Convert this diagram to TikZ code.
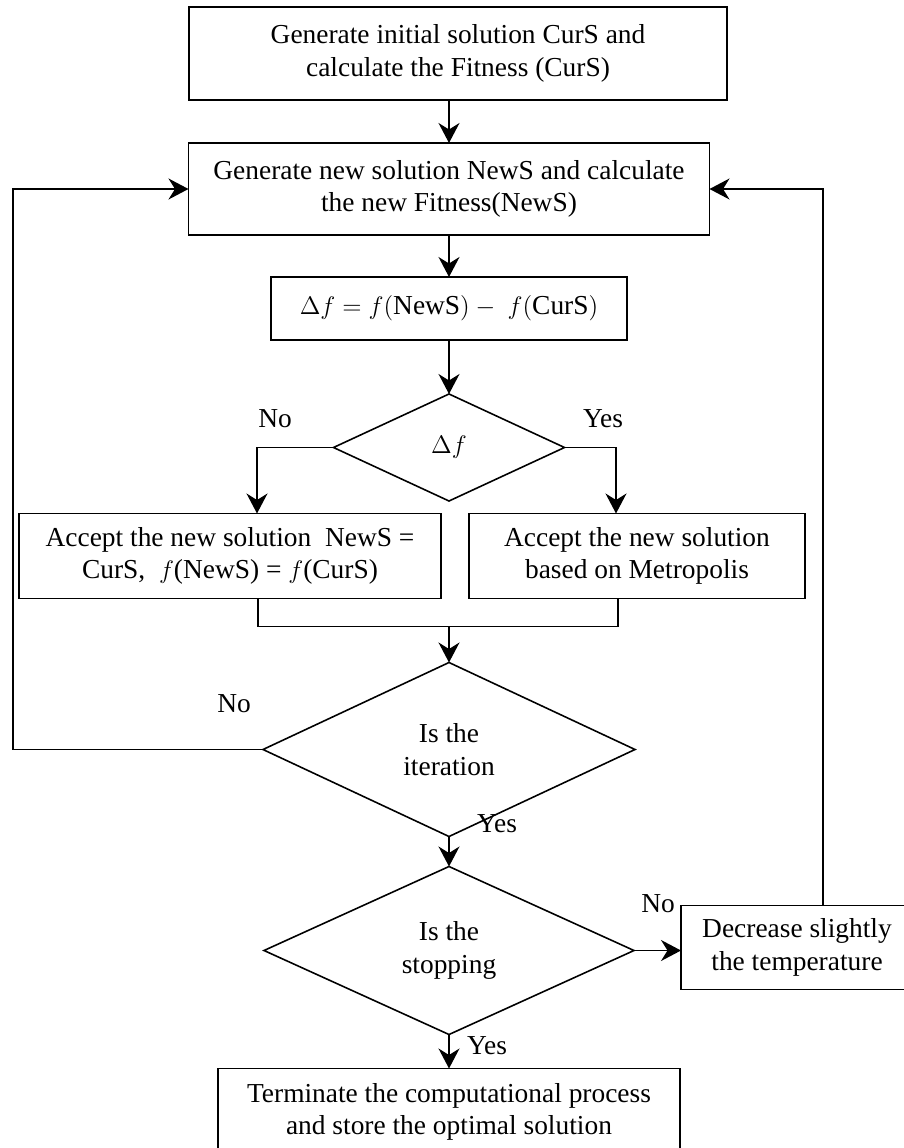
\documentclass[tikz,border=0pt]{standalone}
\usepackage{fontspec}
\setmainfont{Liberation Serif}
\usepackage{amsmath}
\usetikzlibrary{shapes.geometric, arrows.meta, positioning}

\begin{document}
\begin{tikzpicture}[
  font=\fontsize{15.6}{18.5}\selectfont,
  line width=0.9pt,
  box/.style={draw, align=center, inner sep=3pt, outer sep=0pt},
  decision/.style={draw, diamond, aspect=2, inner sep=0pt, outer sep=0pt, align=center},
  arr/.style={-{Stealth[length=0.4cm, width=0.42cm, inset=0.13cm]}},
  lbl/.style={inner sep=1pt}
]
\useasboundingbox (0,0) rectangle (18.06,-22.96);
\node[box, minimum width=10.76cm, minimum height=1.86cm] (init) at (9.16,-1.07)
  {Generate initial solution CurS and\\calculate the Fitness (CurS)};
\node[box, below=0.86cm of init, xshift=-0.18cm, minimum width=10.42cm, minimum height=1.84cm]
  (new) {Generate new solution NewS and calculate\\the new Fitness(NewS)};
\node[box, below=0.84cm of new, minimum width=7.12cm, minimum height=1.26cm]
  (delta) {$\Delta f = f(\mathrm{NewS}) -\ f(\mathrm{CurS})$};
\node[decision, below=1.08cm of delta, minimum width=4.62cm, minimum height=2.14cm]
  (sign) {$\Delta f$};
\node[box, below=0.25cm of sign, xshift=-4.38cm, minimum width=8.44cm, minimum height=1.70cm]
  (accno) {Accept the new solution~~NewS =\\CurS,~ $f$(NewS) = $f$(CurS)};
\node[box, below=0.25cm of sign, xshift=3.76cm, minimum width=6.72cm, minimum height=1.70cm]
  (accyes) {Accept the new solution\\based on Metropolis};
\coordinate (join) at ([yshift=-0.56cm]accno.south -| sign.south);
\node[decision, below=0.72cm of join, minimum width=7.44cm, minimum height=3.48cm]
  (iter) {Is the\\iteration};
\node[decision, below=0.6cm of iter, minimum width=7.40cm, minimum height=3.36cm]
  (stop) {Is the\\stopping};
\node[box, right=0.94cm of stop, yshift=0.06cm, minimum width=4.64cm, minimum height=1.68cm]
  (decr) {Decrease slightly\\the temperature};
\node[box, below=0.68cm of stop, minimum width=9.24cm, minimum height=1.74cm]
  (term) {Terminate the computational process\\and store the optimal solution};
\coordinate (loopL) at (0.26,0);

% main column
\draw[arr] (new.north |- init.south) -- (new);
\draw[arr] (new) -- (delta);
\draw[arr] (delta) -- (sign);
\draw[arr] (sign.west) -| ([xshift=0.54cm]accno.north);
\draw[arr] (sign.east) -| ([xshift=-0.42cm]accyes.north);
\draw ([xshift=0.56cm]accno.south) -- ++(0,-0.56) -| ([xshift=-0.38cm]accyes.south);
\draw[arr] (join) -- (iter);
\draw[arr] (iter) -- (stop);
\draw[arr] (stop.east) -- (stop.east -| decr.west);
\draw[arr] (stop) -- (term);

% loops back
\draw[arr] (iter.west) -- (iter.west -| loopL) |- (new.west);
\draw[arr] ([xshift=0.52cm]decr.north) |- (new.east);

% labels
\node[lbl] (no1) at ([shift={(-1.17,0.58)}]sign.west) {No};
\node[lbl] (yes1) at ([shift={(0.77,0.58)}]sign.east) {Yes};
\node[lbl] (no2) at ([shift={(-0.58,0.92)}]iter.west) {No};
\node[lbl] (yes2) at ([shift={(0.96,0.26)}]iter.south) {Yes};
\node[lbl] (no3) at ([shift={(0.48,0.94)}]stop.east) {No};
\node[lbl] (yes3) at ([shift={(0.76,-0.22)}]stop.south) {Yes};
\end{tikzpicture}
\end{document}
